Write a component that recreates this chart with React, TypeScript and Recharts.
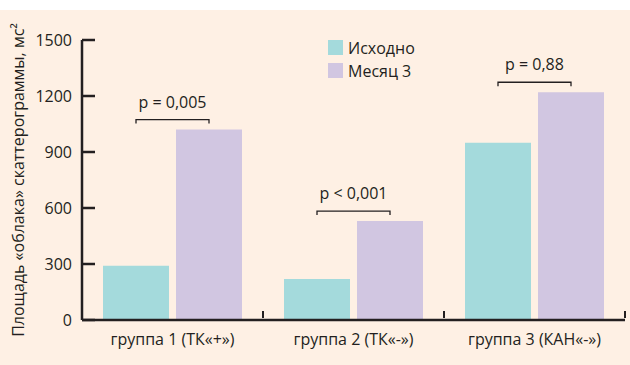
import { BarChart, Bar, XAxis, YAxis, LabelList } from 'recharts'

document.body.style.margin = '0'

const groups = ['группа 1 (ТК«+»)', 'группа 2 (ТК«-»)', 'группа 3 (КАН«-»)']
const baseline = [290, 220, 950]
const month3 = [1020, 530, 1220]
const pValues = ['p = 0,005', 'p < 0,001', 'p = 0,88']
const yTicks = [0, 300, 600, 900, 1200, 1500]

const data = groups.map((g, i) => ({ group: g, base: baseline[i], month: month3[i], p: pValues[i] }))

const FONT = '"Open Sans", sans-serif'
const INK = '#231f20'
const TEAL = '#a4dadc'
const LILAC = '#d1c6e1'
const BAND = 181

function YTick(props: any) {
  const { x, y, payload } = props
  return (
    <g>
      <line x1={x + 10} x2={x + 23} y1={y} y2={y} stroke={INK} strokeWidth={2.5} />
      <text x={x} y={y} dy={5.5} textAnchor="end" fill={INK} fontSize={16} fontFamily={FONT}>
        {payload.value}
      </text>
    </g>
  )
}

function XTick(props: any) {
  const { x, y, payload } = props
  return (
    <g>
      <line x1={x + BAND / 2} x2={x + BAND / 2} y1={y - 10} y2={y - 17} stroke={INK} strokeWidth={2} />
      <text x={x} y={y + 17} textAnchor="middle" fill={INK} fontSize={16} fontFamily={FONT}>
        {payload.value}
      </text>
    </g>
  )
}

function Bracket(props: any) {
  const { x, y, width, value } = props
  const right = x + width / 2
  const left = right - width - 7
  const by = y - 10
  return (
    <g>
      <path d={`M${left},${by + 4}V${by}H${right}V${by + 4}`} fill="none" stroke={INK} strokeWidth={1.3} />
      <text x={(left + right) / 2} y={by - 12} textAnchor="middle" fill={INK} fontSize={16} fontFamily={FONT}>
        {value}
      </text>
    </g>
  )
}

function LegendBox() {
  const items = [
    { label: 'Исходно', color: TEAL },
    { label: 'Месяц 3', color: LILAC },
  ]
  return (
    <div style={{ position: 'absolute', left: 328, top: 36, fontFamily: FONT, fontSize: 16, color: INK }}>
      {items.map((it) => (
        <div key={it.label} style={{ display: 'flex', alignItems: 'center', height: 23 }}>
          <span style={{ width: 15, height: 15, background: it.color, marginRight: 5, display: 'inline-block' }} />
          <span>{it.label}</span>
        </div>
      ))}
    </div>
  )
}

function YLabel(props: any) {
  const { viewBox } = props
  const cy = viewBox.y + viewBox.height / 2
  return (
    <text
      x={18}
      y={cy}
      transform={`rotate(-90 18 ${cy})`}
      textAnchor="middle"
      dominantBaseline="central"
      fill={INK}
      fontSize={16}
      fontFamily={FONT}
    >
      Площадь «облака» скаттерограммы, мс²
    </text>
  )
}

export default function App() {
  return (
    <div style={{ width: 630, height: 365, background: '#fff', position: 'relative' }}>
      <div style={{ position: 'absolute', top: 10, left: 0, width: 630, height: 355, background: '#fef0e4' }} />
      <div style={{ position: 'absolute', top: 0, left: 0 }}>
        <BarChart
          width={630}
          height={365}
          data={data}
          margin={{ top: 40, right: 5, left: 0, bottom: 0 }}
          barSize={66}
          barGap={7}
        >
          <XAxis
            dataKey="group"
            height={45}
            axisLine={{ stroke: INK, strokeWidth: 2.5 }}
            tickLine={false}
            tick={<XTick />}
            interval={0}
          />
          <YAxis
            width={82}
            domain={[0, 1500]}
            ticks={yTicks}
            axisLine={{ stroke: INK, strokeWidth: 2.5 }}
            tickLine={false}
            tickSize={0}
            tickMargin={10}
            tick={<YTick />}
            label={<YLabel />}
          />
          <Bar dataKey="base" name="Исходно" fill={TEAL} isAnimationActive={false} />
          <Bar dataKey="month" name="Месяц 3" fill={LILAC} isAnimationActive={false}>
            <LabelList dataKey="p" content={<Bracket />} />
          </Bar>
        </BarChart>
      </div>
      <LegendBox />
    </div>
  )
}
